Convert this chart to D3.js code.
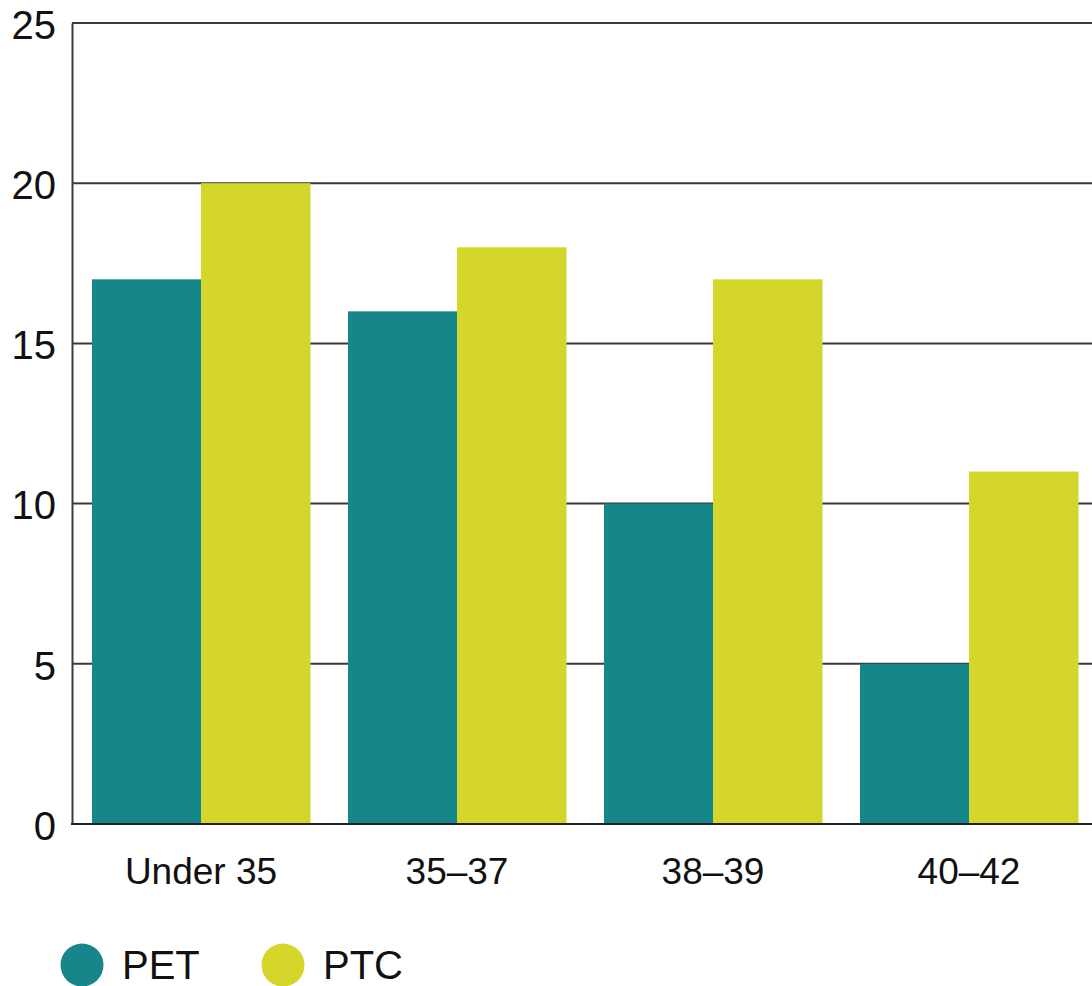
<!DOCTYPE html>
<html>
<head>
<meta charset="utf-8">
<script src="https://cdn.jsdelivr.net/npm/d3@7"></script>
<style>
  body { margin: 0; background: #fff; }
  svg { display: block; font-family: "Liberation Sans", Arial, sans-serif; }
</style>
</head>
<body>
<svg></svg>
<script>
// data
var categories = ['Under 35', '35\u201337', '38\u201339', '40\u201342'];
var seriesNames = ['PET', 'PTC'];
var petValues = [17, 16, 10, 5];
var ptcValues = [20, 18, 17, 11];
var yTicks = [0, 5, 10, 15, 20, 25];
var colors = ['#17868a', '#d4d62c'];

var svgWidth = 1092, svgHeight = 986;
var plotLeft = 72, plotTop = 23, plotBottom = 824, plotRight = 1097;

var svg = d3.select('svg')
  .attr('width', svgWidth)
  .attr('height', svgHeight);

var yScale = d3.scaleLinear()
  .domain([0, 25])
  .range([plotBottom, plotTop]);

var xScale = d3.scaleBand()
  .domain(categories)
  .range([plotLeft + 1, plotRight])
  .paddingInner(38 / 256)
  .paddingOuter(19 / 256);

var xSub = d3.scaleBand()
  .domain(seriesNames)
  .range([0, xScale.bandwidth()]);

// gridlines
svg.append('g')
  .selectAll('line')
  .data(yTicks.slice(1))
  .enter()
  .append('line')
  .attr('x1', plotLeft)
  .attr('x2', svgWidth)
  .attr('y1', d => yScale(d))
  .attr('y2', d => yScale(d))
  .attr('stroke', '#3a3a3a')
  .attr('stroke-width', 2);

// bars
var rows = categories.map((c, i) => ({ cat: c, vals: [petValues[i], ptcValues[i]] }));

var groups = svg.selectAll('g.grp')
  .data(rows)
  .enter()
  .append('g')
  .attr('class', 'grp')
  .attr('transform', d => 'translate(' + xScale(d.cat) + ',0)');

groups.selectAll('rect')
  .data(d => d.vals.map((v, j) => ({ name: seriesNames[j], v: v, j: j })))
  .enter()
  .append('rect')
  .attr('x', d => xSub(d.name))
  .attr('width', xSub.bandwidth() + 0.5)
  .attr('y', d => yScale(d.v))
  .attr('height', d => plotBottom - yScale(d.v))
  .attr('fill', d => colors[d.j]);

// y axis
var yAxis = d3.axisLeft(yScale).tickValues(yTicks).tickSize(0).tickPadding(16);
var gy = svg.append('g')
  .attr('transform', 'translate(' + plotLeft + ',0)')
  .call(yAxis);
gy.select('.domain').attr('stroke', '#3a3a3a').attr('stroke-width', 2);
gy.selectAll('text')
  .attr('font-size', 40)
  .attr('fill', '#111')
  .attr('dy', '0.38em');

// x axis
var xAxis = d3.axisBottom(xScale).tickSize(0).tickPadding(34);
var gx = svg.append('g')
  .attr('transform', 'translate(0,' + plotBottom + ')')
  .call(xAxis);
gx.select('.domain').remove();
gx.selectAll('text')
  .attr('font-size', 37)
  .attr('fill', '#111');
svg.append('line')
  .attr('x1', plotLeft - 1)
  .attr('x2', svgWidth)
  .attr('y1', plotBottom)
  .attr('y2', plotBottom)
  .attr('stroke', '#222')
  .attr('stroke-width', 2);

// legend
var legendX = [82, 283];
var legend = svg.selectAll('g.leg')
  .data(seriesNames)
  .enter()
  .append('g')
  .attr('class', 'leg')
  .attr('transform', (d, i) => 'translate(' + legendX[i] + ',965)');

legend.append('circle')
  .attr('r', 21.5)
  .attr('fill', (d, i) => colors[i]);

legend.append('text')
  .attr('x', 40)
  .attr('dy', '0.36em')
  .attr('font-size', 40)
  .attr('fill', '#111')
  .text(d => d);
</script>
</body>
</html>
